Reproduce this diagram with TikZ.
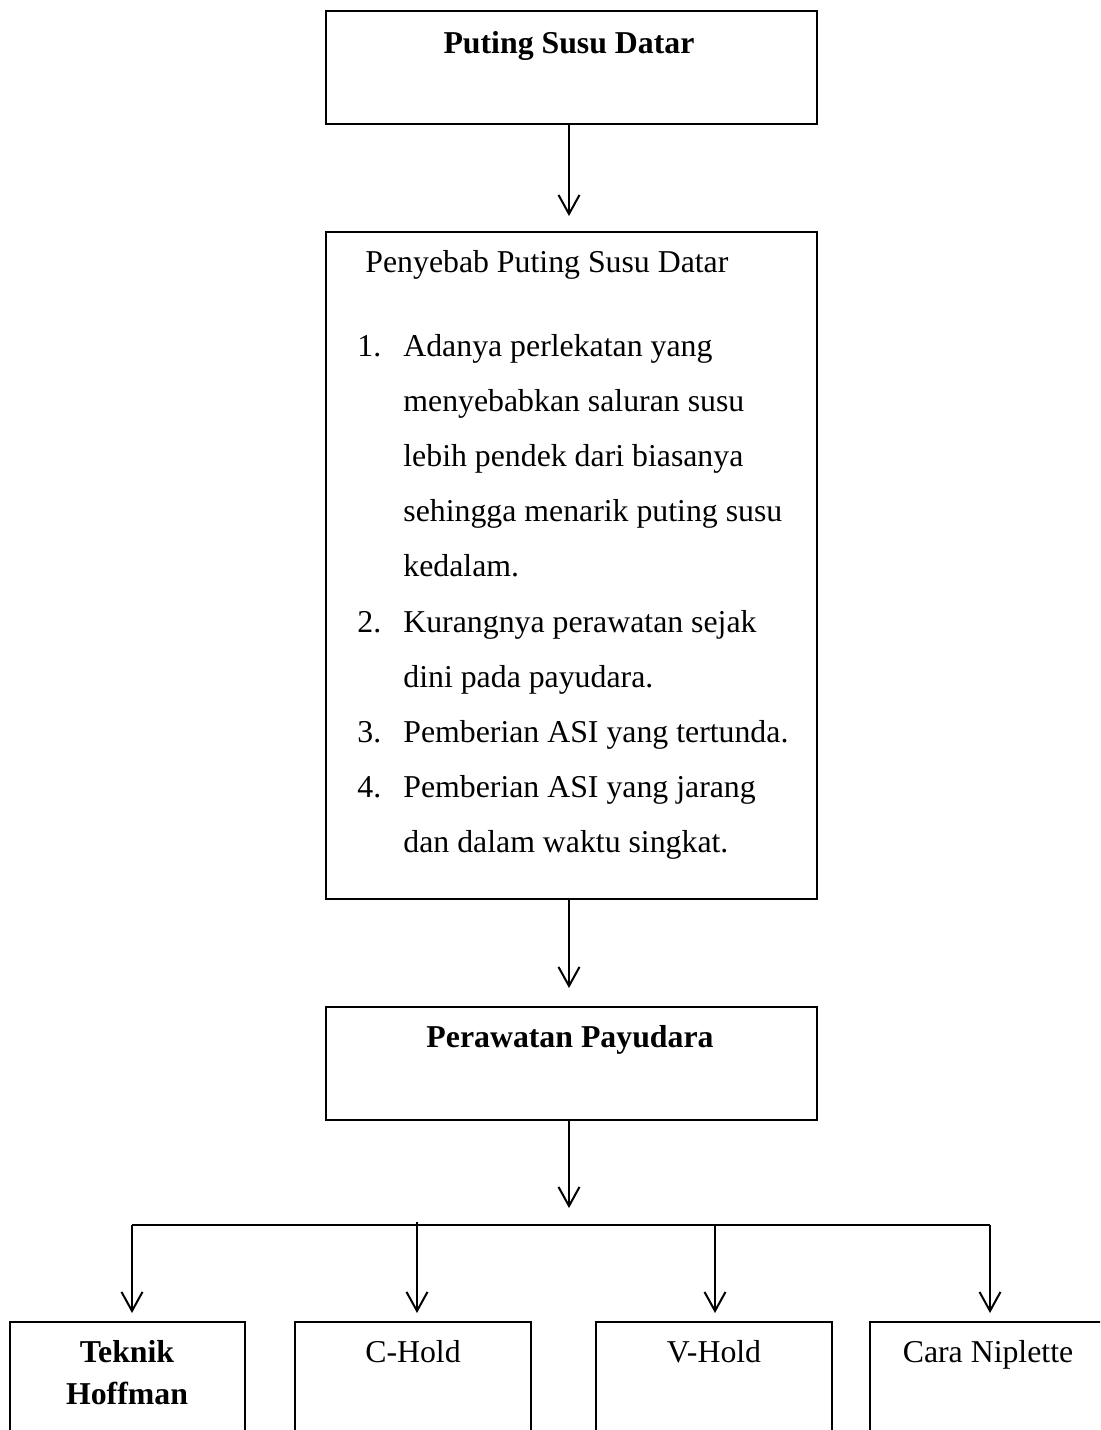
\documentclass[tikz,border=0pt]{standalone}
\usepackage{fontspec}
\setmainfont{Liberation Serif}
\usetikzlibrary{arrows.meta}
\begin{document}
\begin{tikzpicture}[x=0.5pt,y=-0.5pt,
  box/.style={draw, line width=0.85pt, inner sep=0pt, outer sep=0pt},
  arr/.style={draw, line width=1pt, -{Straight Barb[length=9.5pt,width=10.5pt,line width=1pt]}},
  txt/.style={inner sep=0pt, anchor=base, font=\fontsize{15.9}{27.6}\selectfont},
  btxt/.style={txt, font=\fontsize{15.9}{27.6}\selectfont\bfseries}]
\useasboundingbox (0,0) rectangle (1100,1430);
\clip (0,0) rectangle (1100,1430);
\fill[white] (0,0) rectangle (1100,1430);

% main boxes
\node[box, minimum width=245.5pt, minimum height=56.5pt] (b1) at (571.5,67.5) {};
\node[box, minimum width=245.5pt, minimum height=333.5pt] (b2) at (571.5,565.5) {};
\node[box, minimum width=245.5pt, minimum height=56.5pt] (b3) at (571.5,1063.5) {};

% bottom boxes (cut by the page edge)
\node[box, minimum width=117.5pt, minimum height=69pt] (t1) at (127.5,1391) {};
\node[box, minimum width=118pt, minimum height=69pt] (t2) at (413,1391) {};
\node[box, minimum width=118pt, minimum height=69pt] (t3) at (714,1391) {};
\node[box, minimum width=118pt, minimum height=69pt] (t4) at (988,1391) {};

% texts
\node[btxt] (h1) at (569,53) {Puting Susu Datar};
\node[txt, anchor=base west] (h2) at (365,272) {Penyebab Puting Susu Datar};
\node[txt, anchor=base west] (list) at (357,356) {%
\begin{tabular}[t]{@{}p{23pt}@{}l@{}}
1. & Adanya perlekatan yang\\
   & menyebabkan saluran susu\\
   & lebih pendek dari biasanya\\
   & sehingga menarik puting susu\\
   & kedalam.\\
2. & Kurangnya perawatan sejak\\
   & dini pada payudara.\\
3. & Pemberian ASI yang tertunda.\\
4. & Pemberian ASI yang jarang\\
   & dan dalam waktu singkat.
\end{tabular}};
\node[btxt] (h3) at (570,1047) {Perawatan Payudara};
\node[btxt] (s1a) at (127,1362) {Teknik};
\node[btxt] (s1b) at (127,1404) {Hoffman};
\node[txt] (s2) at (413,1362) {C-Hold};
\node[txt] (s3) at (714,1362) {V-Hold};
\node[txt] (s4) at (988,1362) {Cara Niplette};

% connectors
\draw[arr, shorten >=8pt] ([xshift=-1.25pt]b1.south) -- ([xshift=-1.25pt]b2.north);
\draw[arr, shorten >=9.5pt] ([xshift=-1.25pt]b2.south) -- ([xshift=-1.25pt]b3.north);
\coordinate (j) at (569,1208);
\draw[arr] ([xshift=-1.25pt]b3.south) -- (j);
\coordinate (hl) at (132,1225);
\coordinate (hr) at (990,1225);
\coordinate (c2) at (417,1222);
\coordinate (c3) at (715,1225);
\draw[line width=1.3pt] (hl) -- (hr);
\draw[arr, shorten >=4.5pt] (hl) -- (hl |- t1.north);
\draw[arr, shorten >=4.5pt] (c2) -- (c2 |- t2.north);
\draw[arr, shorten >=4.5pt] (c3) -- (c3 |- t3.north);
\draw[arr, shorten >=4.5pt] (hr) -- (hr |- t4.north);
\end{tikzpicture}
\end{document}
